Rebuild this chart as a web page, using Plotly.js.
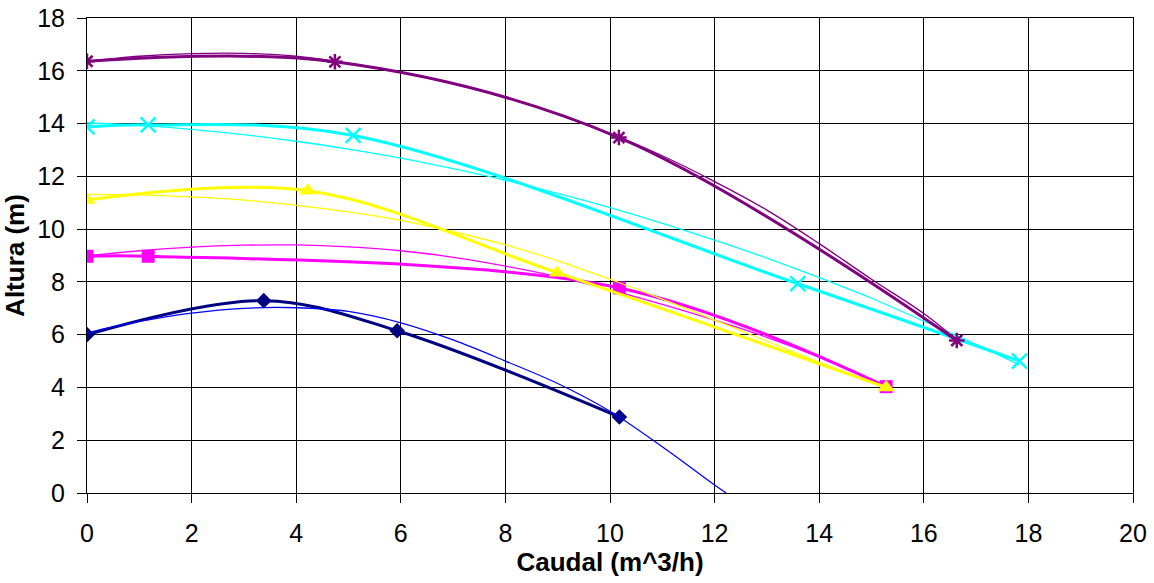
<!DOCTYPE html>
<html>
<head>
<meta charset="utf-8">
<script src="https://cdn.plot.ly/plotly-3.0.1.min.js"></script>
<style>html,body{margin:0;padding:0;background:#fff;}#chart{width:1154px;height:583px;}</style>
</head>
<body>
<div id="chart"></div>
<script>
// Measured pump curves (marker points)
const q1 = [0, 3.38, 5.93, 10.18];
const h1 = [6.0, 7.29, 6.15, 2.88];
const q2 = [0, 1.17, 10.18, 15.28];
const h2 = [8.97, 8.97, 7.77, 4.03];
const q3 = [0, 4.22, 8.99, 15.28];
const h3 = [11.1, 11.45, 8.35, 4.0];
const q4 = [0, 1.17, 5.09, 13.59, 17.83];
const h4 = [13.87, 13.95, 13.55, 7.93, 5.0];
const q5 = [0, 4.74, 10.17, 16.63];
const h5 = [16.36, 16.34, 13.47, 5.78];

// Trendlines
const t1x = [0, 1, 2, 3, 4, 5, 6, 7, 8, 9, 10, 11, 12, 12.22];
const t1y = [6.07, 6.5, 6.82, 7.0, 7.02, 6.88, 6.45, 5.8, 5.0, 4.15, 3.1, 1.75, 0.3, 0];
const t2x = [0, 1, 2, 3, 4, 5, 6, 7, 8, 9, 10, 11, 12, 13, 14, 15, 15.28];
const t2y = [8.98, 9.18, 9.32, 9.39, 9.4, 9.33, 9.18, 8.93, 8.6, 8.2, 7.7, 7.15, 6.55, 5.9, 5.15, 4.3, 4.03];
const t3x = [0, 1, 2, 3, 4, 5, 6, 7, 8, 9, 10, 11, 12, 13, 14, 15, 15.28];
const t3y = [11.32, 11.3, 11.22, 11.1, 10.9, 10.65, 10.33, 9.9, 9.4, 8.8, 8.1, 7.35, 6.55, 5.75, 4.95, 4.2, 4.0];
const t4x = [0, 1, 2, 3, 4, 5, 6, 7, 8, 9, 10, 11, 12, 13, 14, 15, 16, 17, 17.83];
const t4y = [14.03, 13.93, 13.78, 13.58, 13.33, 13.03, 12.69, 12.29, 11.85, 11.35, 10.81, 10.22, 9.58, 8.9, 8.16, 7.38, 6.51, 5.63, 4.85];
const t5x = [0, 1, 2, 3, 4, 5, 6, 7, 8, 9, 10, 11, 12, 13, 14, 15, 16, 16.63];
const t5y = [16.35, 16.55, 16.65, 16.66, 16.55, 16.28, 15.95, 15.5, 14.98, 14.35, 13.62, 12.78, 11.8, 10.72, 9.45, 8.1, 6.8, 5.8];

const xTicks = [0, 2, 4, 6, 8, 10, 12, 14, 16, 18, 20];
const yTicks = [0, 2, 4, 6, 8, 10, 12, 14, 16, 18];

function trend(x, y, c) {
  return {x: x, y: y, type: 'scatter', mode: 'lines', line: {color: c, width: 1.3, shape: 'spline'}, hoverinfo: 'skip'};
}
function series(x, y, c, sym, size, open) {
  const m = {symbol: sym, size: size, color: c};
  if (open) m.line = {color: c, width: 2.5};
  return {x: x, y: y, type: 'scatter', mode: 'lines+markers', line: {color: c, width: 3, shape: 'spline', smoothing: 1}, marker: m};
}

const data = [
  series(q1, h1, '#000080', 'diamond', 12, false),
  trend(t1x, t1y, '#0000FF'),
  series(q2, h2, '#FF00FF', 'square', 13, false),
  trend(t2x, t2y, '#FF00FF'),
  series(q3, h3, '#FFFF00', 'triangle-up', 15, false),
  trend(t3x, t3y, '#FFFF00'),
  series(q4, h4, '#00FFFF', 'x-thin-open', 15, true),
  trend(t4x, t4y, '#00FFFF'),
  series(q5, h5, '#800080', 'asterisk-open', 13, true),
  trend(t5x, t5y, '#800080')
];

const layout = {
  width: 1154, height: 583,
  margin: {l: 87, r: 21, t: 18, b: 90},
  paper_bgcolor: '#fff', plot_bgcolor: '#fff',
  showlegend: false,
  font: {family: 'Liberation Sans, Arial, sans-serif', color: '#000'},
  xaxis: {
    range: [0, 20], tickvals: xTicks, ticktext: xTicks.map(String),
    showgrid: true, gridcolor: '#000', gridwidth: 1,
    showline: true, linecolor: '#000', linewidth: 1, mirror: true,
    ticks: 'outside', ticklen: 9, tickcolor: '#000',
    tickfont: {size: 25}, zeroline: false, ticklabelstandoff: 9,
    title: {text: '<b>Caudal (m^3/h)</b>', font: {size: 26}, standoff: 4}
  },
  yaxis: {
    range: [0, 18], tickvals: yTicks, ticktext: yTicks.map(String),
    showgrid: true, gridcolor: '#000', gridwidth: 1,
    showline: true, linecolor: '#000', linewidth: 1, mirror: true,
    ticks: 'outside', ticklen: 9, tickcolor: '#000',
    tickfont: {size: 25}, zeroline: false, ticklabelstandoff: 7,
    title: {text: '<b>Altura (m)</b>', font: {size: 26}, standoff: 6}
  }
};

Plotly.newPlot('chart', data, layout, {displayModeBar: false, staticPlot: true});
</script>
</body>
</html>
